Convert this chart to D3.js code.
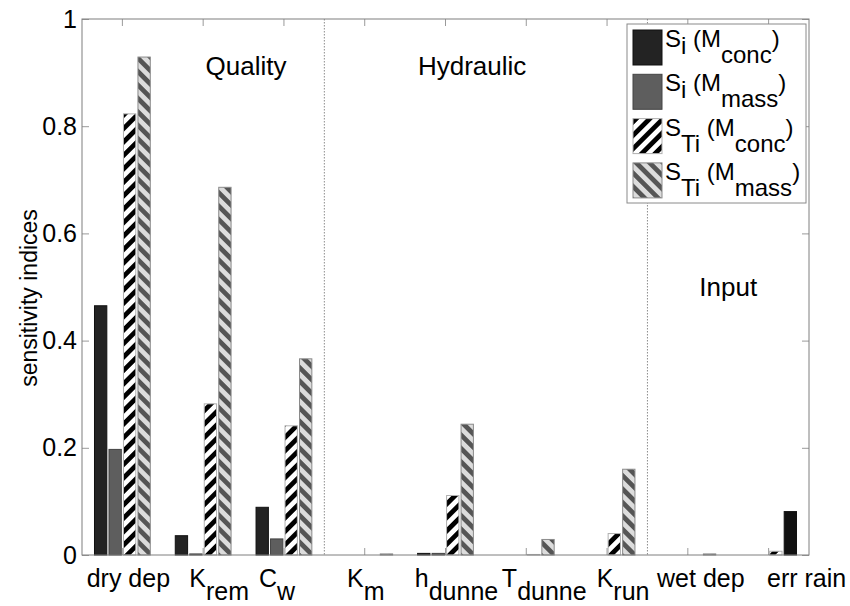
<!DOCTYPE html>
<html>
<head>
<meta charset="utf-8">
<script src="https://cdn.jsdelivr.net/npm/d3@7"></script>
<style>
    body { margin: 0; background: #fff; }
    text { font-family: "Liberation Sans", Arial, sans-serif; fill: #000; }
</style>
</head>
<body>
<div id="chart"></div>
<script>

// categories (main text + subscript)
const labelMain = ["dry dep", "K", "C", "K", "h", "T", "K", "wet dep", "err rain"];
const labelSub = ["", "rem", "w", "m", "dunne", "dunne", "run", "", ""];

// series values
const siConc = [0.465, 0.036, 0.089, 0, 0.003, 0, 0, 0, 0];
const siMass = [0.197, 0.002, 0.030, 0, 0.003, 0, 0, 0, 0];
const stiConc = [0.823, 0.282, 0.241, 0, 0.111, 0.001, 0.040, 0, 0.007];
const stiMass = [0.929, 0.686, 0.366, 0.002, 0.244, 0.029, 0.160, 0.002, 0.081];

const seriesKeys = ["siConc", "siMass", "stiConc", "stiMass"];
const legendMain = ["S", "S", "S", "S"];
const legendSub = ["i", "i", "Ti", "Ti"];
const legendModel = ["conc", "mass", "conc", "mass"];

const yTicks = [0, 0.2, 0.4, 0.6, 0.8, 1];

const groupNames = ["Quality", "Hydraulic", "Input"];


class SensitivityChart {

    constructor(parentElement) {
        this.parentElement = parentElement;
        this.displayData = [];
        this.initVis();
    }

    initVis() {
        let vis = this;

        vis.margin = {top: 19, right: 41, bottom: 51, left: 82};
        vis.width = 850 - vis.margin.left - vis.margin.right;
        vis.height = 606 - vis.margin.top - vis.margin.bottom;

        vis.root = d3.select("#" + vis.parentElement).append("svg")
            .attr("width", 850)
            .attr("height", 606);

        vis.svg = vis.root.append("g")
            .attr("transform", "translate(" + vis.margin.left + "," + vis.margin.top + ")");

        // hatch patterns
        let defs = vis.root.append("defs");
        vis.addHatch(defs, "hatch-conc", "#ffffff", "#000000", 45);
        vis.addHatch(defs, "hatch-mass", "#dcdcdc", "#555555", -45);

        // scales
        vis.x = d3.scaleBand()
            .domain(d3.range(labelMain.length))
            .range([0, vis.width]);

        let half = 28.4;
        vis.xSub = d3.scaleBand()
            .domain(seriesKeys)
            .range([vis.x.bandwidth() / 2 - half, vis.x.bandwidth() / 2 + half])
            .paddingInner(0.08);

        vis.y = d3.scaleLinear()
            .domain([0, 1])
            .range([vis.height, 0]);

        vis.fills = {
            siConc: "#232323",
            siMass: "#5e5e5e",
            stiConc: "url(#hatch-conc)",
            stiMass: "url(#hatch-mass)"
        };
        vis.strokes = {
            siConc: "#111111",
            siMass: "#444444",
            stiConc: "#b0b0b0",
            stiMass: "#8a8a8a"
        };

        vis.wrangleData();
    }

    addHatch(defs, id, bg, fg, angle) {
        let p = defs.append("pattern")
            .attr("id", id)
            .attr("patternUnits", "userSpaceOnUse")
            .attr("width", 9.5)
            .attr("height", 9.5)
            .attr("patternTransform", "rotate(" + angle + ")");
        p.append("rect").attr("width", 9.5).attr("height", 9.5).attr("fill", bg);
        p.append("rect").attr("width", 4.75).attr("height", 9.5).attr("fill", fg);
    }

    wrangleData() {
        let vis = this;
        let values = {siConc, siMass, stiConc, stiMass};

        vis.displayData = [];
        labelMain.forEach((d, i) => {
            seriesKeys.forEach(k => {
                vis.displayData.push({cat: i, key: k, value: values[k][i]});
            });
        });

        vis.updateVis();
    }

    updateVis() {
        let vis = this;

        // section dividers
        [3, 7].forEach(i => {
            vis.svg.append("line")
                .attr("x1", vis.x(i)).attr("x2", vis.x(i))
                .attr("y1", 0).attr("y2", vis.height)
                .attr("stroke", "#8c8c8c")
                .attr("stroke-width", 1)
                .attr("stroke-dasharray", "1.5,1.5");
        });

        // bars
        vis.svg.selectAll(".bar")
            .data(vis.displayData.filter(d => d.value > 0))
            .enter().append("rect")
            .attr("class", "bar")
            .attr("x", d => vis.x(d.cat) + vis.xSub(d.key) + 0.5)
            .attr("width", vis.xSub.bandwidth() - 1)
            .attr("y", d => vis.y(d.value))
            .attr("height", d => vis.height - vis.y(d.value))
            .attr("fill", d => (d.cat === 8 && d.key === "stiMass") ? "#111111" : vis.fills[d.key])
            .attr("stroke", d => (d.cat === 8 && d.key === "stiMass") ? "#111111" : vis.strokes[d.key])
            .attr("stroke-width", 1);

        // axes (ticks inward, MATLAB style)
        let tickColor = "#9a9a9a";

        vis.yAxis = d3.axisLeft(vis.y)
            .tickValues(yTicks)
            .tickFormat(d => String(d))
            .tickSize(-7)
            .tickPadding(5);

        let ya = vis.svg.append("g").attr("class", "y-axis").call(vis.yAxis);
        ya.select(".domain").remove();
        ya.selectAll("line").attr("stroke", tickColor);
        ya.selectAll("text")
            .style("font-size", "25px")
            .attr("fill", "#000");

        let yr = vis.svg.append("g")
            .attr("transform", "translate(" + vis.width + ",0)")
            .call(d3.axisRight(vis.y).tickValues(yTicks).tickSize(-7).tickFormat(""));
        yr.select(".domain").remove();
        yr.selectAll("line").attr("stroke", tickColor);

        let xTicks = d3.axisBottom(vis.x).tickSize(-7).tickFormat("");
        let xb = vis.svg.append("g")
            .attr("transform", "translate(0," + vis.height + ")")
            .call(xTicks);
        xb.select(".domain").remove();
        xb.selectAll("line").attr("stroke", tickColor);

        let xt = vis.svg.append("g")
            .call(d3.axisTop(vis.x).tickSize(-7).tickFormat(""));
        xt.select(".domain").remove();
        xt.selectAll("line").attr("stroke", tickColor);

        // box
        vis.svg.append("rect")
            .attr("width", vis.width)
            .attr("height", vis.height)
            .attr("fill", "none")
            .attr("stroke", "#7f7f7f")
            .attr("stroke-width", 1);

        // x labels with subscripts (placed by hand in the original, hence the nudges)
        let nudge = [6, 16, -7, 1, 11, 18, 16, 13, 38];
        labelMain.forEach((m, i) => {
            let t = vis.svg.append("text")
                .attr("x", vis.x(i) + vis.x.bandwidth() / 2 + nudge[i])
                .attr("y", vis.height + 32)
                .attr("text-anchor", "middle")
                .style("font-size", "25px");
            t.append("tspan").text(m);
            if (labelSub[i]) t.append("tspan").attr("dy", 13).text(labelSub[i]);
        });

        // y label
        vis.svg.append("text")
            .attr("transform", "translate(" + (37 - vis.margin.left) + "," + (298 - vis.margin.top) + ") rotate(-90)")
            .attr("text-anchor", "middle")
            .style("font-size", "23px")
            .text("sensitivity indices");

        // section titles
        let bw = vis.x.bandwidth();
        let titlePos = [[2.03, 0.895], [4.83, 0.895], [8.0, 0.483]];
        groupNames.forEach((g, i) => {
            vis.svg.append("text")
                .attr("x", titlePos[i][0] * bw)
                .attr("y", vis.y(titlePos[i][1]))
                .attr("text-anchor", "middle")
                .style("font-size", "26px")
                .text(g);
        });

        // legend
        let lg = vis.svg.append("g")
            .attr("transform", "translate(" + (vis.width - 182) + ",5)");

        lg.append("rect")
            .attr("width", 179)
            .attr("height", 179)
            .attr("fill", "#fff")
            .attr("stroke", "#8a8a8a");

        seriesKeys.forEach((k, i) => {
            let row = lg.append("g").attr("transform", "translate(6," + (6 + i * 44.3) + ")");
            row.append("rect")
                .attr("width", 29)
                .attr("height", 35)
                .attr("fill", vis.fills[k])
                .attr("stroke", vis.strokes[k]);

            let t = row.append("text")
                .attr("x", 32)
                .attr("y", 17)
                .style("font-size", "24px");
            let shift = legendSub[i] === "i" ? 7 : 16;
            t.append("tspan").text(legendMain[i]);
            t.append("tspan").attr("dy", shift).text(legendSub[i]);
            t.append("tspan").attr("dy", -shift).text(" (M");
            t.append("tspan").attr("dy", 16).text(legendModel[i]);
            t.append("tspan").attr("dy", -16).text(")");
        });
    }
}

new SensitivityChart("chart");

</script>
</body>
</html>
